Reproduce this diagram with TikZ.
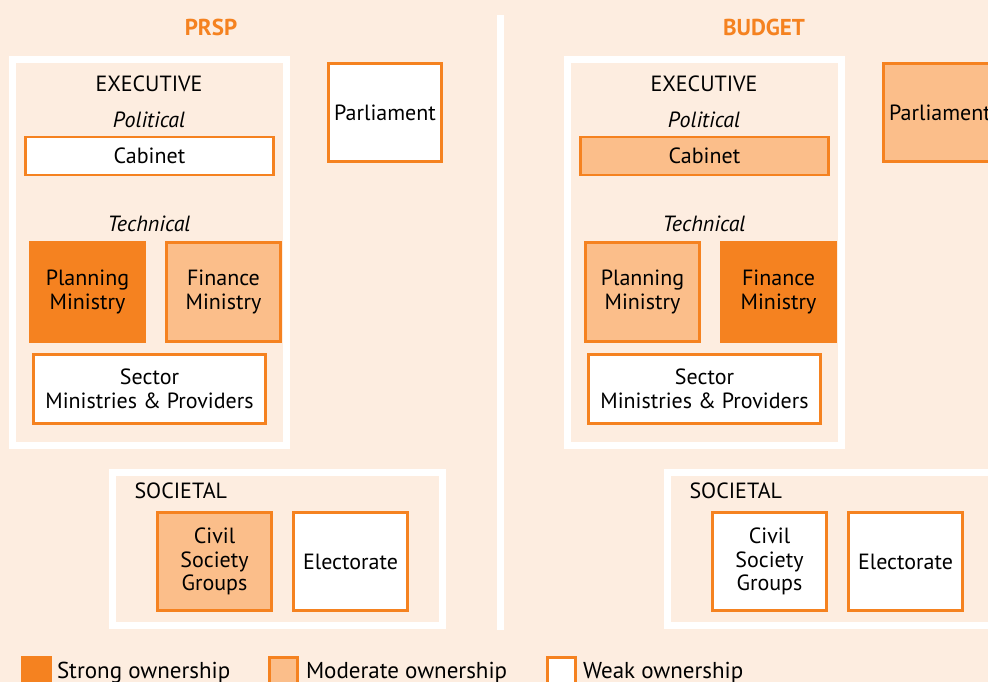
\documentclass[tikz,border=0pt]{standalone}
\usepackage{fontspec}
\setmainfont{PT Sans}
\usetikzlibrary{positioning}
\definecolor{bgpeach}{RGB}{253,237,224}
\definecolor{strongorange}{RGB}{245,130,32}
\definecolor{modorange}{RGB}{251,190,138}

\begin{document}
\begin{tikzpicture}[x=1pt, y=-1pt,
    font=\fontsize{22}{23.5}\selectfont,
    weak/.style={draw=strongorange, line width=2.5pt, fill=white, inner sep=0pt, align=center},
    moderate/.style={weak, fill=modorange},
    strong/.style={weak, fill=strongorange},
    groupframe/.style={draw=white, line width=7pt},
    paneltitle/.style={font=\fontsize{23}{23.5}\selectfont\bfseries, text=strongorange},
    subhead/.style={font=\fontsize{22}{23.5}\selectfont\itshape},
    keybox/.style={minimum width=28, minimum height=30},
    keytext/.style={font=\fontsize{23}{23.5}\selectfont, anchor=west}]

    \fill[bgpeach] (0,0) rectangle (988,682);
    \useasboundingbox (0,0) rectangle (988,682);
    \draw[white, line width=7pt] (500.5,15) -- (500.5,630);

    % PRSP
    \node[paneltitle] (title1) at (211,27) {PRSP};
    \draw[groupframe] (12.5,59.5) rectangle (286.5,445.5);
    \node (exec1) at (149,84) {EXECUTIVE};
    \node[subhead] (pol1) at (149,120) {Political};
    \node[weak, minimum width=248, minimum height=38] (cab1) at (149.5,156) {Cabinet};
    \node[subhead] (tech1) at (149,224) {Technical};
    \node[strong, minimum width=114, minimum height=99] (plan1) at (87.5,292) {Planning\\Ministry};
    \node[moderate, minimum width=114, minimum height=99] (fin1) at (223.5,292) {Finance\\Ministry};
    \node[weak, minimum width=232, minimum height=69] (sect1) at (149.5,389) {Sector\\Ministries \& Providers};
    \node[weak, minimum width=113, minimum height=98] (parl1) at (385,112.5) {Parliament};
    \draw[groupframe] (112.5,472.5) rectangle (442.5,625.5);
    \node[anchor=west] (soc1) at (131,491) {SOCIETAL};
    \node[moderate, minimum width=114, minimum height=98] (civ1) at (214.5,561.5) {Civil\\Society\\Groups};
    \node[weak, minimum width=114, minimum height=98] (elec1) at (350.5,561.5) {Electorate};

    % BUDGET
    \node[paneltitle] (title2) at (764,27) {BUDGET};
    \draw[groupframe] (567.5,59.5) rectangle (841.5,445.5);
    \node (exec2) at (704,84) {EXECUTIVE};
    \node[subhead] (pol2) at (704,120) {Political};
    \node[moderate, minimum width=248, minimum height=38] (cab2) at (704.5,156) {Cabinet};
    \node[subhead] (tech2) at (704,224) {Technical};
    \node[moderate, minimum width=114, minimum height=99] (plan2) at (642.5,292) {Planning\\Ministry};
    \node[strong, minimum width=114, minimum height=99] (fin2) at (778.5,292) {Finance\\Ministry};
    \node[weak, minimum width=232, minimum height=69] (sect2) at (704.5,389) {Sector\\Ministries \& Providers};
    \node[moderate, minimum width=113, minimum height=98] (parl2) at (940,112.5) {Parliament};
    \draw[groupframe] (667.5,472.5) rectangle (997.5,625.5);
    \node[anchor=west] (soc2) at (686,491) {SOCIETAL};
    \node[weak, minimum width=114, minimum height=98] (civ2) at (769.5,561.5) {Civil\\Society\\Groups};
    \node[weak, minimum width=114, minimum height=98] (elec2) at (905.5,561.5) {Electorate};

    % legend
    \node[strong, keybox, anchor=north west] (keystrong) at (21,656) {};
    \node[keytext, right=2pt of keystrong.east, yshift=-0.5pt] (txtstrong) {Strong ownership};
    \node[moderate, keybox, anchor=north west] (keymod) at (268,656) {};
    \node[keytext, right=4pt of keymod.east, yshift=-0.5pt] (txtmod) {Moderate ownership};
    \node[weak, keybox, anchor=north west] (keyweak) at (546,656) {};
    \node[keytext, right=3pt of keyweak.east, yshift=-0.5pt] (txtweak) {Weak ownership};
\end{tikzpicture}
\end{document}
